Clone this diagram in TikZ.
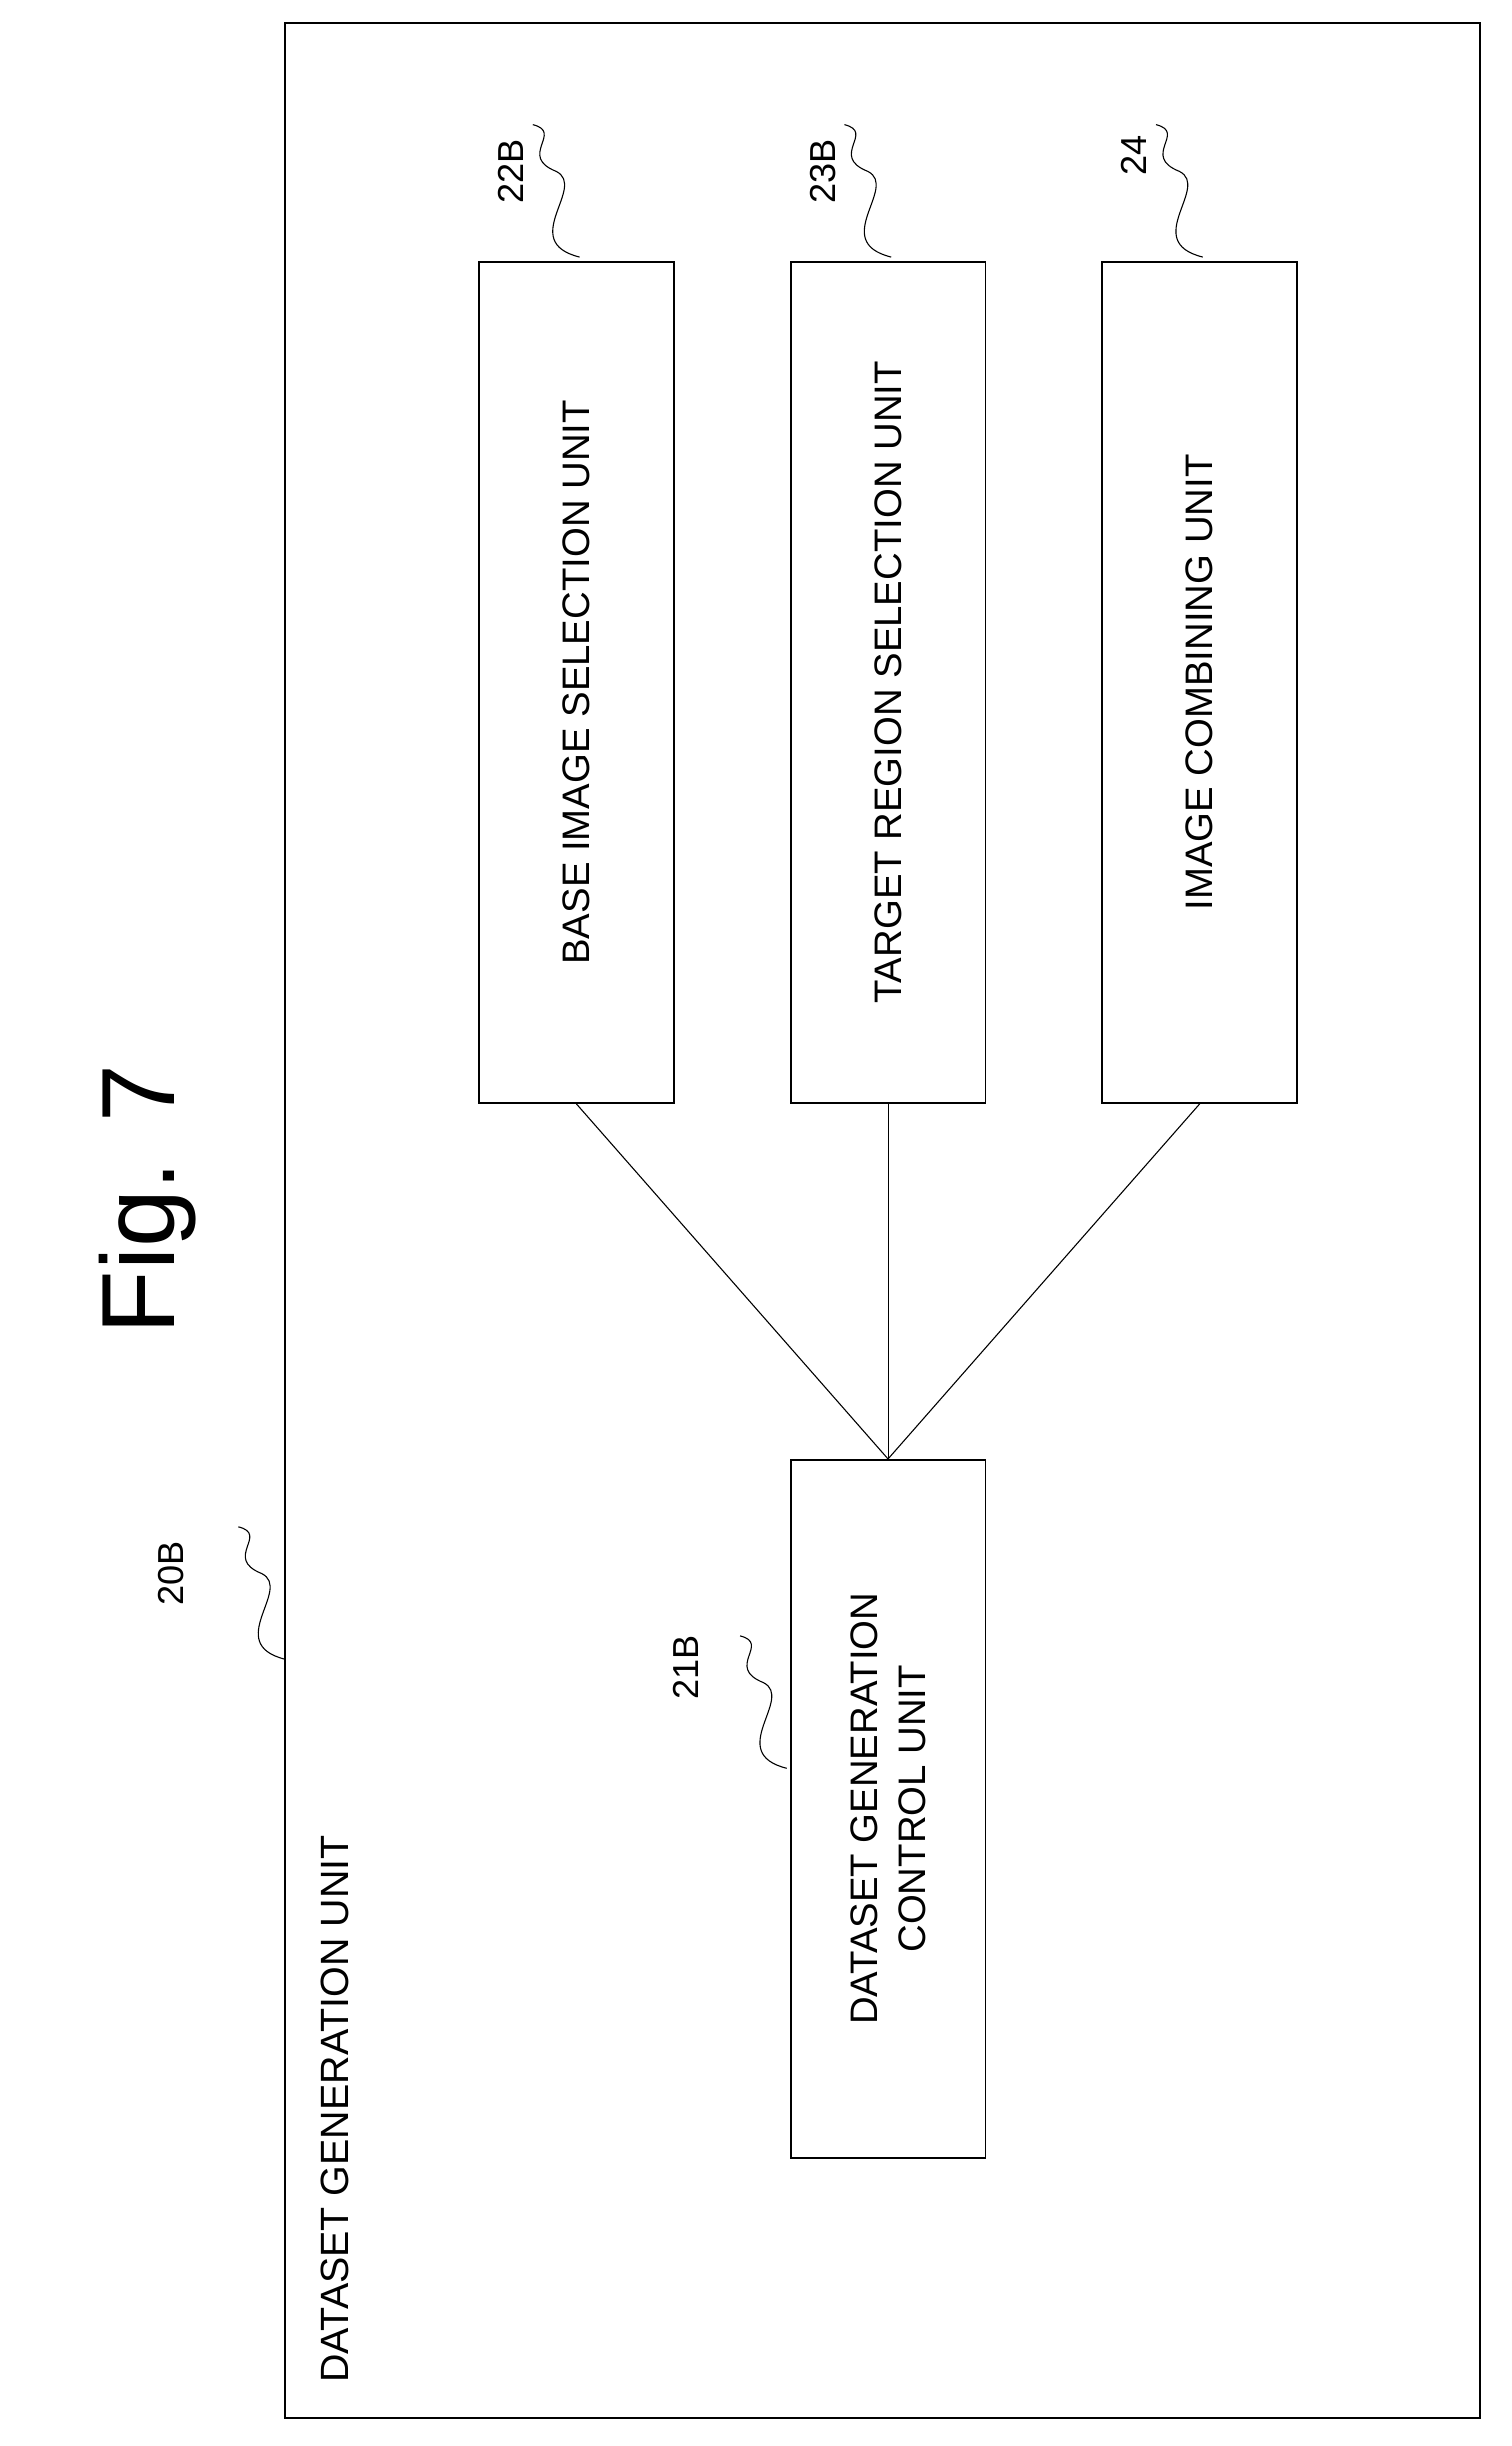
\documentclass[tikz,border=0pt]{standalone}
\usepackage{fontspec}
\setmainfont{Liberation Sans}
\usetikzlibrary{positioning}
\begin{document}
\begin{tikzpicture}[x=0.05cm,y=-0.05cm,
    box/.style={rectangle, draw, line width=1.6pt, minimum width=125*0.05cm, inner sep=0pt},
    unit/.style={rotate=90, font=\fontsize{35}{44}\selectfont, align=center},
    lbl/.style={rotate=90, font=\fontsize{33}{38}\selectfont},
    link/.style={line width=1pt}
]
    \useasboundingbox (0,0) rectangle (970,1570);
    % Frame
    \draw[line width=1.6pt] (183,15) rectangle (950,1552);
    \node[lbl, anchor=west, font=\fontsize{36}{40}\selectfont] (title) at (215,1532) {DATASET GENERATION UNIT};
    \node[rotate=90, font=\fontsize{95}{100}\selectfont] (fig) at (95,770) {Fig. 7};

    % Units
    \node[box, minimum height=540*0.05cm] (base) at (370,438) {};
    \node[unit] at (base) {BASE IMAGE SELECTION UNIT};
    \node[box, minimum height=540*0.05cm] (target) at (570,438) {};
    \node[unit] at (target) {TARGET REGION SELECTION UNIT};
    \node[box, minimum height=540*0.05cm] (comb) at (770,438) {};
    \node[unit] at (comb) {IMAGE COMBINING UNIT};
    \node[box, minimum height=448*0.05cm] (ctrl) at (570,1161) {};
    \node[unit] at (ctrl) {DATASET GENERATION\\CONTROL UNIT};

    \draw[link] (base.south) -- (ctrl.north);
    \draw[link] (target.south) -- (ctrl.north);
    \draw[link] (comb.south) -- (ctrl.north);

    % Reference labels
    \node[lbl] (l22) at (328,110) {22B};
    \node[lbl] (l23) at (528,110) {23B};
    \node[lbl] (l24) at (728,100) {24};
    \node[lbl] (l21) at (440,1070) {21B};
    \node[lbl] (l20) at (110,1010) {20B};
    \foreach \x/\y in {372/165,572/165,772/165,505/1135,183/1065}
        \draw[line width=1pt] (\x,\y) .. controls (\x-40,\y-10) and (\x+5,\y-45) .. (\x-15,\y-55)
              .. controls (\x-40,\y-65) and (\x-10,\y-80) .. (\x-30,\y-85);
\end{tikzpicture}
\end{document}
